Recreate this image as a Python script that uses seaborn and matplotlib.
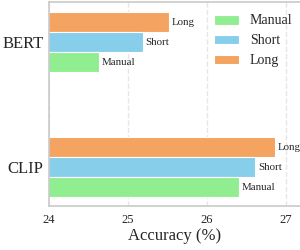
import matplotlib
matplotlib.use("Agg")
import matplotlib.pyplot as plt
import seaborn as sns
import pandas as pd

# data
models = ["BERT", "CLIP"]
prompts = ["Long", "Short", "Manual"]
long_acc = [25.52, 26.86]
short_acc = [25.19, 26.61]
manual_acc = [24.63, 26.41]

colors = {"Manual": "#90EE90", "Short": "#87CEEB", "Long": "#F4A460"}

rows = []
for i, m in enumerate(models):
    rows.append((m, "Long", long_acc[i]))
    rows.append((m, "Short", short_acc[i]))
    rows.append((m, "Manual", manual_acc[i]))
df = pd.DataFrame(rows, columns=["model", "prompt", "acc"])

sns.set_theme(style="whitegrid")
plt.rcParams["font.family"] = ["Liberation Serif", "DejaVu Serif"]
plt.rcParams["grid.linestyle"] = "--"
plt.rcParams["grid.color"] = "#e6e6e6"

fig = plt.figure(figsize=(3, 2.5), dpi=100)
ax = fig.add_axes([0.163, 0.176, 0.837, 0.816])

sns.barplot(data=df, y="model", x="acc", hue="prompt", order=models,
            hue_order=prompts, palette=colors, width=0.48, saturation=1,
            edgecolor="white", linewidth=0.8, orient="h", ax=ax)

for cont, name in zip(ax.containers, prompts):
    ax.bar_label(cont, labels=[name] * len(cont), padding=2, fontsize=7.8)

ax.set_xlim(24, 27.18)
ax.set_ylim(1.31, -0.32)
ax.set_xticks([24, 25, 26, 27])
ax.set_xlabel("Accuracy (%)", fontsize=12, labelpad=1)
ax.set_ylabel("")
ax.tick_params(axis="x", labelsize=9, pad=6, length=0)
ax.tick_params(axis="y", labelsize=12, pad=4, length=0)
for s in ax.spines.values():
    s.set_color("#cccccc")
ax.spines["right"].set_visible(False)

handles, labels = ax.get_legend_handles_labels()
order = [labels.index(n) for n in ["Manual", "Short", "Long"]]
ax.legend([handles[i] for i in order], [labels[i] for i in order],
          loc="upper right", bbox_to_anchor=(1.02, 1.0), frameon=False,
          fontsize=10, handlelength=1.8, handleheight=0.7, labelspacing=0.5,
          handletextpad=0.8)

fig.savefig("out.png", dpi=100)
